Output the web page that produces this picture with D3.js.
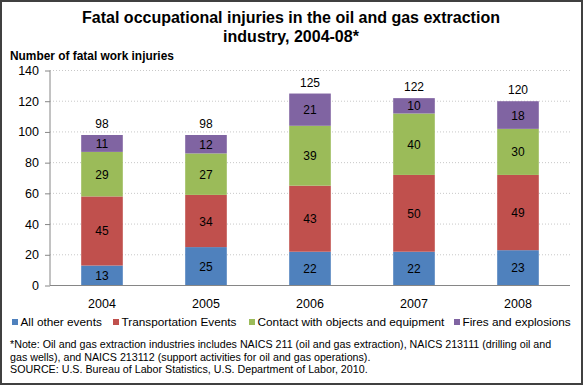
<!DOCTYPE html>
<html>
<head>
<meta charset="utf-8">
<script src="https://cdn.jsdelivr.net/npm/d3@7"></script>
<style>
  body { margin: 0; background: #fff; }
  svg { display: block; font-family: "Liberation Sans", Arial, sans-serif; }
</style>
</head>
<body>
<div id="chart"></div>
<script>
'use strict';

// data
const years = ['2004', '2005', '2006', '2007', '2008']
const series = ['All other events', 'Transportation Events', 'Contact with objects and equipment', 'Fires and explosions']
const allOther = [13, 25, 22, 22, 23]
const transport = [45, 34, 43, 50, 49]
const contact = [29, 27, 39, 40, 30]
const fires = [11, 12, 21, 10, 18]
const totals = [98, 98, 125, 122, 120]
const yTicks = [0, 20, 40, 60, 80, 100, 120, 140]
const colors = ['#4F81BD', '#C0504D', '#9BBB59', '#8064A2']

const width = 583
const height = 385
const fontFam = '"Liberation Sans", Arial, sans-serif'

const rows = years.map((y, i) => ({
  year: y,
  [series[0]]: allOther[i],
  [series[1]]: transport[i],
  [series[2]]: contact[i],
  [series[3]]: fires[i],
  total: totals[i]
}))

const stacked = d3.stack().keys(series)(rows)

const svg = d3.select('#chart')
  .append('svg')
  .attr('width', width)
  .attr('height', height)

// outer frame
svg.append('rect')
  .attr('x', 1).attr('y', 1)
  .attr('width', width - 2).attr('height', height - 2)
  .attr('fill', 'none')
  .attr('stroke', '#404040')
  .attr('stroke-width', 2)

// title
const title = svg.append('text')
  .attr('text-anchor', 'middle')
  .style('font-weight', 'bold')
  .style('font-size', '16px')
title.append('tspan').attr('x', 291).attr('y', 23).text('Fatal occupational injuries in the oil and gas extraction')
title.append('tspan').attr('x', 291).attr('y', 42).text('industry, 2004-08*')

svg.append('text')
  .attr('x', 10).attr('y', 60)
  .style('font-weight', 'bold')
  .style('font-size', '11.9px')
  .text('Number of fatal work injuries')

const xScale = d3.scaleBand()
  .domain(years)
  .range([50, 570])
  .paddingInner(0.6)
  .paddingOuter(0.3)

const yScale = d3.scaleLinear()
  .domain([0, 140])
  .range([285.5, 70.5])

// gridlines
svg.append('g')
  .selectAll('line')
  .data(yTicks.filter(d => d > 0))
  .join('line')
  .attr('x1', 50).attr('x2', 570)
  .attr('y1', d => yScale(d)).attr('y2', d => yScale(d))
  .attr('stroke', '#c8c8c8')
  .attr('stroke-dasharray', '1,2')

// bars
const layer = svg.append('g')
  .selectAll('g')
  .data(stacked)
  .join('g')
  .attr('fill', (d, i) => colors[i])

layer.selectAll('rect')
  .data(d => d)
  .join('rect')
  .attr('x', d => xScale(d.data.year))
  .attr('y', d => yScale(d[1]))
  .attr('width', xScale.bandwidth())
  .attr('height', d => yScale(d[0]) - yScale(d[1]))

// segment labels
layer.selectAll('text')
  .data(d => d)
  .join('text')
  .attr('x', d => xScale(d.data.year) + xScale.bandwidth() / 2)
  .attr('y', d => (yScale(d[0]) + yScale(d[1])) / 2 + 4.5)
  .attr('text-anchor', 'middle')
  .attr('fill', '#000')
  .style('font-size', '12px')
  .text(d => d[1] - d[0])

// totals
svg.append('g')
  .selectAll('text')
  .data(rows)
  .join('text')
  .attr('x', d => xScale(d.year) + xScale.bandwidth() / 2)
  .attr('y', d => yScale(d.total) - 7)
  .attr('text-anchor', 'middle')
  .style('font-size', '12px')
  .text(d => d.total)

// y axis
const yAxis = d3.axisLeft(yScale).tickValues(yTicks).tickSize(5).tickPadding(6)
const yAxisGroup = svg.append('g')
  .attr('transform', 'translate(50,0)')
  .call(yAxis)
yAxisGroup.select('.domain').attr('stroke', '#868686').attr('d', 'M0,' + yScale(140) + 'V' + yScale(0))
yAxisGroup.selectAll('line').attr('stroke', '#868686')
yAxisGroup.selectAll('text').style('font-size', '12.5px').style('font-family', fontFam).attr('fill', '#000')

// x axis
const xAxis = d3.axisBottom(xScale).tickSize(0).tickPadding(14)
const xAxisGroup = svg.append('g')
  .attr('transform', `translate(0,${yScale(0)})`)
  .call(xAxis)
xAxisGroup.select('.domain').attr('stroke', '#868686').attr('d', 'M50,0H570')
xAxisGroup.selectAll('text').style('font-size', '12.5px').style('font-family', fontFam).attr('fill', '#000')

// legend
const legendX = [12, 113, 249, 454]
const legend = svg.append('g')
  .selectAll('g')
  .data(series)
  .join('g')
  .attr('transform', (d, i) => `translate(${legendX[i]}, 326)`)
legend.append('rect')
  .attr('x', 0).attr('y', -7)
  .attr('width', 6).attr('height', 6)
  .attr('fill', (d, i) => colors[i])
legend.append('text')
  .attr('x', 8.5).attr('y', 0)
  .style('font-size', '11.8px')
  .text(d => d)

// notes
const notes = [
  '*Note: Oil and gas extraction industries includes NAICS 211 (oil and gas extraction), NAICS 213111 (drilling oil and',
  'gas wells), and NAICS 213112 (support activities for oil and gas operations).',
  'SOURCE: U.S. Bureau of Labor Statistics, U.S. Department of Labor, 2010.'
]
svg.append('g')
  .selectAll('text')
  .data(notes)
  .join('text')
  .attr('x', 10)
  .attr('y', (d, i) => 348 + i * 12.5)
  .style('font-size', '10.7px')
  .text(d => d)
</script>
</body>
</html>
